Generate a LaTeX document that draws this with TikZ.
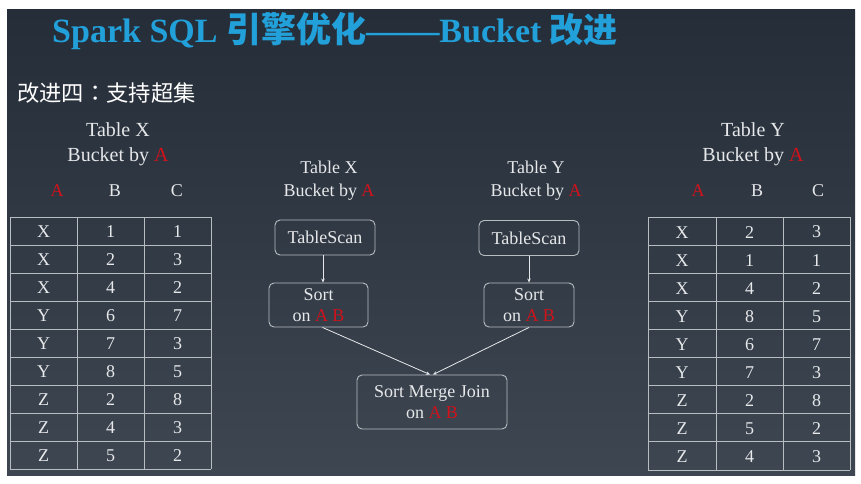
\documentclass[tikz,border=0pt]{standalone}
\usepackage{fontspec}
\setmainfont{Liberation Serif}
\newfontfamily\tms{Liberation Serif}
\newfontfamily\cjk{Noto Sans CJK SC}
\newfontfamily\cjktc{Noto Sans CJK TC}
\usetikzlibrary{arrows.meta,calc}
\definecolor{titleblue}{HTML}{22A0DA}
\definecolor{hlred}{HTML}{D0121B}
\definecolor{fgtext}{HTML}{E6E8EA}
\definecolor{edge}{HTML}{B8BDC2}
\definecolor{slidetop}{HTML}{252D38}
\definecolor{slidebot}{HTML}{3E4651}

\begin{document}
\begin{tikzpicture}[x=1pt, y=-1pt,
  cell/.style={text=fgtext, font=\tms\fontsize{18}{21}\selectfont, inner sep=0pt},
  head/.style={text=fgtext, align=center, font=\tms\fontsize{20}{25}\selectfont, inner sep=0pt},
  box/.style={draw=edge, line width=0.9pt, rounded corners=5pt, text=fgtext, align=center,
    font=\tms\fontsize{18}{21.5}\selectfont, inner sep=0pt},
  tabline/.style={draw=edge, line width=0.8pt},
  arr/.style={draw=fgtext, line width=0.8pt, -{Stealth[length=4pt,width=3.5pt]}}]
\useasboundingbox (0,0) rectangle (861,483);
\fill[white] (0,0) rectangle (861,483);
\shade[top color=slidetop, bottom color=slidebot] (7,9) rectangle (855,475);

% title
\node[anchor=base west, inner sep=0pt, text=titleblue, font=\tms\fontsize{34}{40}\selectfont] (title) at (52,42)
  {\bfseries Spark SQL {\cjk\bfseries\fontsize{35}{40}\selectfont 引擎优化}\scalebox{1.08}[1]{——}Bucket {\cjk\bfseries 改进}};
\node[anchor=west, inner sep=0pt, text=white, font=\cjk\fontsize{22.3}{26}\selectfont] (sub) at (17,93)
  {改进四{\cjktc ：}支持超集};

% table X
\node[head] (lxt) at (118,144) {Table X\\Bucket by {\color{hlred}A}};
\node[cell] (lxha) at (57,191) {\color{hlred}A};
\node[cell] (lxhb) at (115,191) {B};
\node[cell] (lxhc) at (177,191) {C};
\foreach \a/\b/\c [count=\i] in {X/1/1,X/2/3,X/4/2,Y/6/7,Y/7/3,Y/8/5,Z/2/8,Z/4/3,Z/5/2}{
  \node[cell] (lx-\i-a) at (43.5,{204+28*\i}) {\a};
  \node[cell] (lx-\i-b) at (110.5,{204+28*\i}) {\b};
  \node[cell] (lx-\i-c) at (177.5,{204+28*\i}) {\c};
}
\foreach \k in {0,...,9} \draw[tabline] (10,{217+28*\k}) -- (211,{217+28*\k});
\foreach \x in {10,77,144,211} \draw[tabline] (\x,217) -- (\x,469);

% table Y
\node[head] (lyt) at (753,144) {Table Y\\Bucket by {\color{hlred}A}};
\node[cell] (lyha) at (698,191) {\color{hlred}A};
\node[cell] (lyhb) at (757,191) {B};
\node[cell] (lyhc) at (818,191) {C};
\foreach \a/\b/\c [count=\i] in {X/2/3,X/1/1,X/4/2,Y/8/5,Y/6/7,Y/7/3,Z/2/8,Z/5/2,Z/4/3}{
  \node[cell] (ly-\i-a) at (682,{204+28.1*\i}) {\a};
  \node[cell] (ly-\i-b) at (749.5,{204+28.1*\i}) {\b};
  \node[cell] (ly-\i-c) at (816.5,{204+28.1*\i}) {\c};
}
\foreach \k in {0,...,9} \draw[tabline] (648,{217+28.1*\k}) -- (850,{217+28.1*\k});
\foreach \x in {648,716,783,850} \draw[tabline] (\x,217) -- (\x,470);

% plan
\node[head, font=\tms\fontsize{18}{23}\selectfont] (px) at (329,181) {Table X\\Bucket by {\color{hlred}A}};
\node[head, font=\tms\fontsize{18}{23}\selectfont] (py) at (536,181) {Table Y\\Bucket by {\color{hlred}A}};
\node[box, minimum width=100, minimum height=35] (tsx) at (325,237.5) {TableScan};
\node[box, minimum width=99, minimum height=44] (sortx) at (318.5,305) {Sort\\on {\color{hlred}A B}};
\node[box, minimum width=100, minimum height=35] (tsy) at (529,238) {TableScan};
\node[box, minimum width=90, minimum height=44] (sorty) at (529,305) {Sort\\on {\color{hlred}A B}};
\node[box, minimum width=150, minimum height=54] (smj) at (432,402) {Sort Merge Join\\on {\color{hlred}A B}};

\coordinate (ax) at ($(tsx.south)+(-2,0)$);
\coordinate (jx) at ($(smj.north)+(-2,0)$);
\coordinate (jy) at ($(smj.north)+(1,0)$);
\draw[arr] (ax) -- (ax |- sortx.north);
\draw[arr] (tsy.south) -- (sorty.north);
\draw[arr] ($(sortx.south)+(4,0)$) -- (jx);
\draw[arr] (sorty.south) -- (jy);
\end{tikzpicture}
\end{document}
